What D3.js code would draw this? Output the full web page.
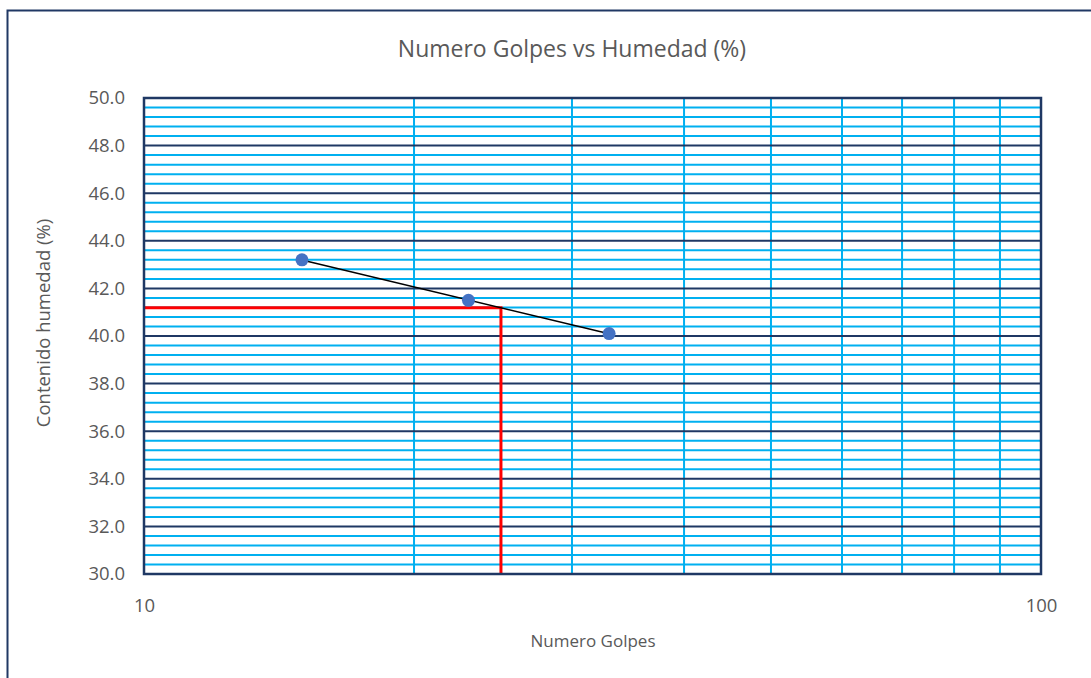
<!DOCTYPE html>
<html>
<head>
<meta charset="utf-8">
<script src="https://cdn.jsdelivr.net/npm/d3@7"></script>
<style>
  html, body { margin: 0; padding: 0; background: #ffffff; }
  svg { display: block; }
  text { font-family: "Open Sans", "Noto Sans", sans-serif; fill: #595959; }
</style>
</head>
<body>
<svg id="chart" width="1091" height="678"></svg>
<script>
// Blow counts and water content measured in the liquid-limit test
const golpes = [15, 23, 33];
const humedad = [43.2, 41.5, 40.1];
// Reference blow count used to read the liquid limit
const golpesRef = 25;

const xTickValues = [10, 100];
const yTickValues = [30, 32, 34, 36, 38, 40, 42, 44, 46, 48, 50];
const xGridValues = [20, 30, 40, 50, 60, 70, 80, 90];

const titleText = "Numero Golpes vs Humedad (%)";
const xTitle = "Numero Golpes";
const yTitle = "Contenido humedad (%)";

const W = 1091, H = 678;
const plot = { left: 144, right: 1041, top: 98, bottom: 574 };
const fontStack = '"Open Sans", "Noto Sans", sans-serif';

const svg = d3.select("#chart");

const x = d3.scaleLog().domain([10, 100]).range([plot.left, plot.right]);
const y = d3.scaleLinear().domain([30, 50]).range([plot.bottom, plot.top]);

// Outer chart frame
svg.append("rect")
  .attr("x", 7.5).attr("y", 10.5)
  .attr("width", W + 20).attr("height", H + 20)
  .attr("fill", "#ffffff")
  .attr("stroke", "#203864").attr("stroke-width", 2);

// Title
svg.append("text")
  .attr("x", 572).attr("y", 57)
  .attr("text-anchor", "middle")
  .attr("font-size", 23)
  .text(titleText);

const g = svg.append("g");

// Minor horizontal gridlines every 0.4
const minorY = d3.range(30, 50.0001, 0.4).filter(v => Math.abs(v / 2 - Math.round(v / 2)) > 1e-6);
g.selectAll("line.minor-y").data(minorY).join("line")
  .attr("x1", plot.left).attr("x2", plot.right)
  .attr("y1", d => y(d)).attr("y2", d => y(d))
  .attr("stroke", "#00B0F0").attr("stroke-width", 2);

// Vertical gridlines on the log axis
g.selectAll("line.grid-x").data(xGridValues).join("line")
  .attr("y1", plot.top).attr("y2", plot.bottom)
  .attr("x1", d => x(d)).attr("x2", d => x(d))
  .attr("stroke", "#00B0F0").attr("stroke-width", 2);

// Major horizontal gridlines every 2
g.selectAll("line.major-y").data(yTickValues).join("line")
  .attr("x1", plot.left).attr("x2", plot.right)
  .attr("y1", d => y(d)).attr("y2", d => y(d))
  .attr("stroke", "#1F3864").attr("stroke-width", 2);

// Trend line: water content against log10 of blow count
const lx = golpes.map(v => Math.log10(v));
const mx = d3.mean(lx), my = d3.mean(humedad);
const slope = d3.sum(lx.map((v, i) => (v - mx) * (humedad[i] - my))) / d3.sum(lx.map(v => (v - mx) ** 2));
const intercept = my - slope * mx;
const fit = v => intercept + slope * Math.log10(v);
const limiteLiquido = fit(golpesRef);

// Liquid-limit guide lines
g.append("path")
  .attr("d", d3.line()([
    [x(10), y(limiteLiquido)],
    [x(golpesRef), y(limiteLiquido)],
    [x(golpesRef), y(30)]
  ]))
  .attr("fill", "none")
  .attr("stroke", "#FF0000").attr("stroke-width", 3);

const [gMin, gMax] = d3.extent(golpes);
g.append("line")
  .attr("x1", x(gMin)).attr("y1", y(fit(gMin)))
  .attr("x2", x(gMax)).attr("y2", y(fit(gMax)))
  .attr("stroke", "#000000").attr("stroke-width", 1.5);

// Plot border
g.append("rect")
  .attr("x", plot.left).attr("y", plot.top)
  .attr("width", plot.right - plot.left).attr("height", plot.bottom - plot.top)
  .attr("fill", "none")
  .attr("stroke", "#1F3864").attr("stroke-width", 2.5);

// Data points
g.selectAll("circle.pt").data(golpes).join("circle")
  .attr("cx", d => x(d))
  .attr("cy", (d, i) => y(humedad[i]))
  .attr("r", 6.5)
  .attr("fill", "#4472C4");

// Axes (labels only)
const yAxis = d3.axisLeft(y).tickValues(yTickValues).tickFormat(d3.format(".1f")).tickSize(0).tickPadding(19);
const yg = svg.append("g").attr("transform", `translate(${plot.left},0)`).call(yAxis);
yg.select(".domain").remove();
yg.attr("font-size", 18.5).attr("font-family", fontStack);
yg.selectAll("text").attr("font-size", 18.5).attr("fill", "#595959")
  .style("font-family", fontStack);

const xAxis = d3.axisBottom(x).tickValues(xTickValues).tickFormat(d3.format("d")).tickSize(0).tickPadding(25);
const xg = svg.append("g").attr("transform", `translate(0,${plot.bottom})`).call(xAxis);
xg.select(".domain").remove();
xg.attr("font-size", 18.5).attr("font-family", fontStack);
xg.selectAll("text").attr("font-size", 18.5).attr("fill", "#595959")
  .style("font-family", fontStack);

// Axis titles
svg.append("text")
  .attr("x", 593).attr("y", 647)
  .attr("text-anchor", "middle")
  .attr("font-size", 17)
  .text(xTitle);

svg.append("text")
  .attr("transform", "translate(50,323) rotate(-90)")
  .attr("text-anchor", "middle")
  .attr("font-size", 18.5)
  .text(yTitle);
</script>
</body>
</html>
